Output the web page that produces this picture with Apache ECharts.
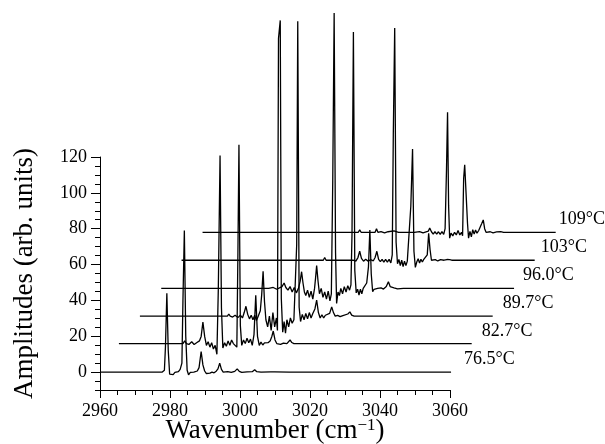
<!DOCTYPE html>
<html><head><meta charset="utf-8">
<script src="https://cdn.jsdelivr.net/npm/echarts@6/dist/echarts.min.js"></script>
<style>html,body{margin:0;padding:0;background:#fff}#c{width:605px;height:444px}</style>
</head><body><div id="c"></div>
<script>
// ---- data ----
const temperatures = ['76.5°C','82.7°C','89.7°C','96.0°C','103°C','109°C'];
const xOffsets = [0, 5.4, 11.4, 17.5, 23.3, 29.3];      // waterfall shift (cm^-1)
const yOffsets = [0, 15.9, 31.2, 46.7, 62.4, 78.0];     // waterfall shift (arb. units)
const xTicks = [2960, 2980, 3000, 3020, 3040, 3060];
const yTicks = [0, 20, 40, 60, 80, 100, 120];

const spec765 = [[2960,0],[2977.8,0],[2978.4,1],[2978.7,14],[2979.1,44],[2979.5,12],[2979.9,-1.2],[2980.4,-0.3],[2980.9,-1.4],[2981.4,-0.2],[2981.9,-1.0],[2982.4,0.2],[2982.9,1.5],[2983.4,5],[2983.7,40],[2984.1,79],[2984.5,20],[2984.9,1],[2985.3,-1.5],[2985.8,-0.2],[2986.3,-1.3],[2986.8,0],[2987.3,-0.8],[2987.8,0.6],[2988.3,2.5],[2988.9,11.5],[2989.4,4],[2989.9,0.6],[2990.4,-0.8],[2990.9,0.2],[2991.4,-0.6],[2992,0],[2992.6,-0.4],[2993.2,0.5],[2993.7,1.8],[2994.2,5],[2994.7,1.5],[2995.2,0],[2995.7,-0.4],[2996.5,0.2],[2997.5,-0.2],[2998.5,0.4],[2999.2,1.8],[2999.8,0.4],[3000.5,-0.2],[3002,0.1],[3003.5,0.2],[3004.2,1.3],[3004.8,0.2],[3006,0],[3008.8,0.1],[3009.3,0.8],[3009.9,0.1],[3014.1,0],[3014.4,0.5],[3014.8,0],[3019.2,0],[3019.5,0.4],[3019.9,0],[3060.3,0]];

const spec827 = [[2960,0],[2978.3,0],[2978.8,1.5],[2979.3,0],[2980,-0.5],[2980.8,1],[2981.5,-0.5],[2982.2,0.5],[2983,1.5],[2983.5,4],[2984,12],[2984.5,4],[2985,-1],[2985.5,1],[2986,-2],[2986.5,0.5],[2987,-3],[2987.5,-1],[2988,-6],[2988.4,30],[2988.9,105],[2989.3,20],[2989.7,-2.5],[2990.2,0.5],[2990.7,-1.5],[2991.2,1.5],[2991.7,-1],[2992.2,2],[2992.7,0],[2993.2,1],[2993.7,-2],[2994.0,50],[2994.3,111],[2994.7,10],[2995.1,-1],[2995.6,2],[2996.1,0],[2996.6,3],[2997.1,0.5],[2997.6,2.5],[2998.1,-1],[2998.6,5],[2999.1,27],[2999.6,4],[3000.1,-1],[3000.6,0.8],[3001.1,-0.8],[3001.6,0.4],[3002.1,-0.6],[3002.6,0.5],[3003.2,1.5],[3003.7,4],[3004.1,7],[3004.6,2],[3005.1,0],[3005.6,0.6],[3006.2,-0.4],[3007,0.3],[3008,0],[3008.5,1],[3008.9,2],[3009.4,0.6],[3010,0],[3013.5,0],[3014,1],[3014.5,0],[3018.5,0],[3018.9,0.6],[3019.3,0],[3060.8,0]];

const spec897 = [[2960,0],[2985,0],[2985.4,1.2],[2985.8,0],[2986.5,-0.5],[2987.2,0.5],[2988,-0.8],[2988.7,0.6],[2989.3,-1],[2989.8,2],[2990.3,5.5],[2990.8,1],[2991.3,-1.5],[2991.8,0.5],[2992.3,-2],[2992.8,0.5],[2993.3,-2.5],[2993.8,0],[2994.4,3],[2994.8,12],[2995.2,25],[2995.6,8],[2996,-2],[2996.5,-6],[2997,0],[2997.5,-8],[2998,2],[2998.5,-6],[2999,-1],[2999.3,-8],[2999.6,155],[3000.1,165],[3000.4,10],[3000.8,-9],[3001.2,-3],[3001.6,-9.5],[3002,-2],[3002.5,-6],[3003,-1],[3003.5,-4],[3004,-2],[3004.5,-3],[3004.8,40],[3005.1,164.5],[3005.5,5],[3005.9,-3],[3006.4,1],[3006.9,-2],[3007.4,1.5],[3007.9,-1.5],[3008.4,2],[3008.9,-1],[3009.4,1.5],[3010,4],[3010.5,9],[3011,2],[3011.5,-1],[3012,0.8],[3012.5,-1],[3013,0.5],[3013.5,-0.5],[3014.2,1.5],[3014.8,5.2],[3015.3,2],[3015.8,0],[3016.5,0.4],[3017.2,-0.3],[3018,0.3],[3019.4,1.2],[3020,2.4],[3020.5,0.6],[3021.2,0],[3024.5,0],[3024.9,0.9],[3025.3,0],[3030.1,0],[3030.5,0.7],[3030.9,0],[3060.8,0]];

const spec960 = [[2960,0],[2990,0],[2990.3,1],[2990.7,0],[2992,0.5],[2993,-0.5],[2994.5,1],[2995.1,3],[2995.6,0.5],[2996.2,-1],[2996.8,1],[2997.4,-2],[2998,0.5],[2998.6,-2.5],[2999.2,0],[2999.7,4],[3000.1,9.3],[3000.5,3],[3000.9,-2],[3001.3,-4],[3001.8,-1],[3002.3,-5],[3002.8,-1.5],[3003.3,-6],[3003.8,0],[3004.1,6],[3004.4,12.7],[3004.8,4],[3005.2,-3],[3005.7,0],[3006.2,-5],[3006.7,-2],[3007.2,-6],[3007.7,-1.5],[3008.2,-7],[3008.6,-3],[3009.0,60],[3009.4,153.6],[3009.8,20],[3010.1,-8.4],[3010.5,-2],[3010.9,-4],[3011.3,0],[3011.8,-3],[3012.3,1],[3012.8,-2],[3013.3,1.5],[3013.8,-1],[3014.2,2],[3014.5,30],[3014.9,143],[3015.3,10],[3015.7,-2.5],[3016.1,-0.5],[3016.5,-3.7],[3016.9,-0.5],[3017.3,-3],[3017.7,0],[3018.2,-1],[3018.7,3],[3019.2,12],[3019.6,32.6],[3020,8],[3020.4,-1.9],[3020.8,-0.5],[3021.3,-1.5],[3021.8,0],[3022.3,-0.6],[3022.8,0.3],[3023.5,-0.4],[3024.3,1],[3024.9,3.7],[3025.4,1],[3025.9,0],[3026.5,0.3],[3027.5,-0.3],[3029.2,0],[3029.6,1],[3030,0],[3034.5,0],[3034.9,0.5],[3035.3,0],[3060.8,0]];

const spec1030 = [[2960,0],[3000.5,0],[3000.9,1.5],[3001.3,0],[3005.3,0],[3005.7,1],[3006.1,0],[3009,0],[3009.8,-0.5],[3010.4,1.5],[3010.9,5],[3011.4,1],[3012,-0.5],[3012.6,0.5],[3013.3,-0.5],[3014,0.3],[3014.8,-0.3],[3015.3,1.5],[3015.8,5],[3016.3,0.5],[3016.8,-0.8],[3017.3,0.5],[3017.8,-1],[3018.3,0.5],[3018.8,-1],[3019.3,0.5],[3019.8,-1.5],[3020.2,3],[3020.5,70],[3020.9,129.6],[3021.3,10],[3021.7,-2],[3022.1,0.5],[3022.5,-3],[3022.9,0],[3023.3,-3.5],[3023.7,-0.5],[3024.1,-3],[3024.5,-0.5],[3025,0],[3025.5,30],[3026,62],[3026.4,5],[3026.8,-4],[3027.2,-1],[3027.6,0.8],[3028,-1.5],[3028.4,0.5],[3028.8,-1],[3029.2,0.5],[3029.7,-0.5],[3030.2,3],[3030.6,15],[3031,6],[3031.4,0],[3031.9,-0.5],[3032.5,0.3],[3033.2,-0.4],[3034,0.3],[3035,0],[3035.8,0.4],[3036.2,1.2],[3036.6,0.3],[3037.2,0],[3040.6,0],[3040.9,0.4],[3041.2,0],[3060.9,0]];

const spec1090 = [[2960,0],[3004.5,0],[3004.9,1.3],[3005.3,0],[3009.3,0],[3009.7,2],[3010.1,0],[3011,0.4],[3012,-0.3],[3013,0.3],[3014.7,0.8],[3016,0],[3019.7,0],[3020.1,0.8],[3020.5,0],[3022,0.4],[3023,-0.3],[3024.5,0.6],[3024.9,2.4],[3025.4,0.3],[3025.9,-1],[3026.4,0.3],[3026.9,-1],[3027.4,0.3],[3027.9,-1.2],[3028.4,0.4],[3028.9,-1.2],[3029.3,2],[3029.7,35],[3030.0,67],[3030.3,15],[3030.6,-3.3],[3031.0,-0.5],[3031.5,-2],[3032,0],[3032.5,-1.5],[3033,1],[3033.5,-1.5],[3034,0],[3034.3,-2],[3034.6,30],[3034.9,37.7],[3035.4,37.7],[3035.7,5],[3036,-3.3],[3036.4,0.5],[3036.8,-2.5],[3037.2,1.5],[3037.6,-1],[3038,1.3],[3038.4,-0.5],[3038.9,1],[3039.4,2],[3039.8,5],[3040.2,6.9],[3040.6,2],[3041,0],[3041.5,-0.5],[3042.2,0.3],[3043,-0.3],[3044,0.2],[3045.2,0.4],[3046,0],[3060.9,0]];

// ---- chart ----
const spectra = [spec765, spec827, spec897, spec960, spec1030, spec1090];
const F = '"Liberation Serif", "DejaVu Serif", serif';
const labelDx = [13, 10, 10, 9, 6, 3];
const X_MIN = xTicks[0], X_MAX = xTicks[xTicks.length - 1];
const Y_MIN = -10, Y_MAX = 120;
// data grid extends to the right so the shifted traces are not cut
const PX_PER_X = (605 - 100 - 155) / (X_MAX - X_MIN);
const DATA_X_MAX = X_MAX + 112 / PX_PER_X;

const series = spectra.map((s, i) => ({
  type: 'line',
  name: temperatures[i],
  xAxisIndex: 0, yAxisIndex: 0,
  data: s.map(p => [p[0] + xOffsets[i], p[1] + yOffsets[i]]),
  symbol: 'none', showSymbol: false, clip: false, animation: false,
  lineStyle: { color: '#000', width: 1.3 },
  endLabel: {
    show: true, formatter: temperatures[i], color: '#000',
    fontFamily: F, fontSize: 18, distance: 0, offset: [labelDx[i], -12.7]
  }
}));

const chart = echarts.init(document.getElementById('c'), null, { renderer: 'canvas' });
chart.setOption({
  animation: false,
  backgroundColor: '#fff',
  grid: [
    { left: 100, right: 43, top: 157, bottom: 54, outerBoundsMode: 'none', containLabel: false },
    { left: 100, right: 155, top: 157, bottom: 54, outerBoundsMode: 'none', containLabel: false }
  ],
  xAxis: [
    { type: 'value', gridIndex: 0, min: X_MIN, max: DATA_X_MAX, show: false },
    {
      type: 'value', gridIndex: 1, min: X_MIN, max: X_MAX, interval: xTicks[1] - xTicks[0],
      axisLine: { show: true, onZero: false, lineStyle: { color: '#000', width: 1 } },
      axisTick: { show: true, inside: false, length: 8, lineStyle: { color: '#000' } },
      minorTick: { show: true, splitNumber: 4, length: 5, lineStyle: { color: '#000' } },
      splitLine: { show: false }, minorSplitLine: { show: false },
      axisLabel: { color: '#000', fontFamily: F, fontSize: 18, margin: 12, formatter: v => String(v) },
      name: '{a|Wavenumber (cm}{s|−1}{a|)}', nameLocation: 'middle', nameGap: 27,
      nameMoveOverlap: false,
      nameTextStyle: { rich: {
        a: { fontFamily: F, fontSize: 27, color: '#000' },
        s: { fontFamily: F, fontSize: 17, color: '#000', verticalAlign: 'top' }
      } }
    }
  ],
  yAxis: [
    { type: 'value', gridIndex: 0, min: Y_MIN, max: Y_MAX, show: false },
    {
      type: 'value', gridIndex: 1, min: Y_MIN, max: Y_MAX, interval: 5, position: 'left',
      axisLine: { show: true, onZero: false, lineStyle: { color: '#000', width: 1 } },
      axisTick: { show: true, inside: false, length: 5, lineStyle: { color: '#000' } },
      axisLabel: { show: false }, splitLine: { show: false }
    },
    {
      type: 'value', gridIndex: 1, min: Y_MIN, max: Y_MAX, interval: 5, position: 'left',
      axisLine: { show: false },
      axisTick: { show: true, inside: false, length: 9, customValues: yTicks, lineStyle: { color: '#000' } },
      axisLabel: { show: true, customValues: yTicks, color: '#000', fontFamily: F, fontSize: 18, margin: 13, formatter: v => String(v) },
      splitLine: { show: false },
      name: 'Amplitudes (arb. units)', nameLocation: 'middle', nameGap: 62,
      nameMoveOverlap: false,
      nameTextStyle: { fontFamily: F, fontSize: 27, color: '#000' }
    }
  ],
  series: series
});
</script>
</body></html>
